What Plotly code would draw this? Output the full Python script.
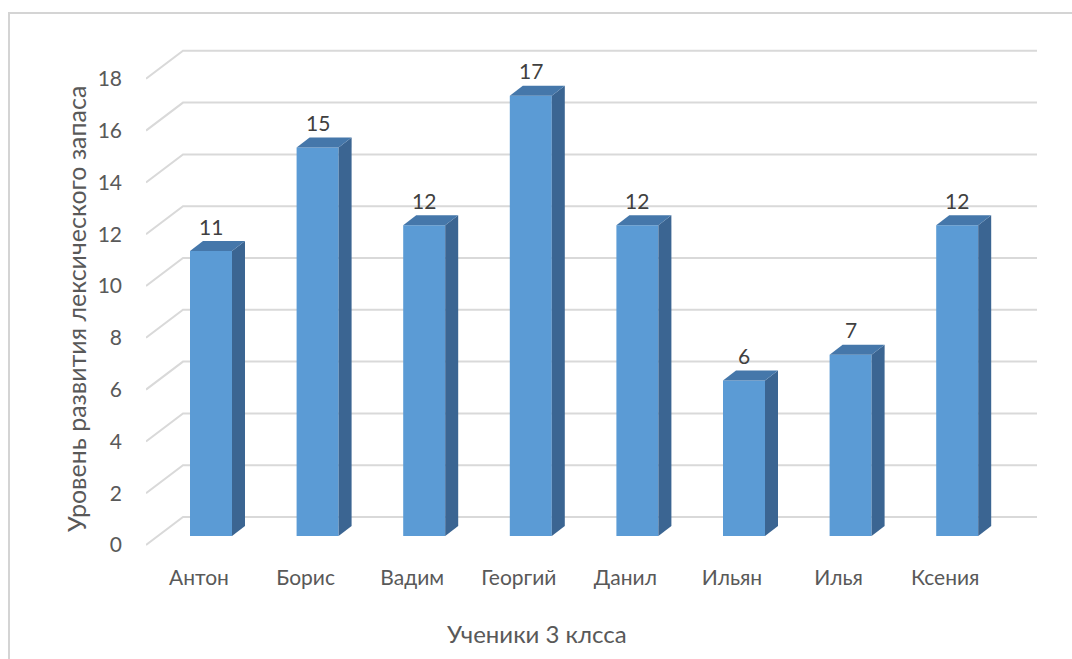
import plotly.graph_objects as go

# Data
students = ["Антон", "Борис", "Вадим", "Георгий", "Данил", "Ильян", "Илья", "Ксения"]
scores = [11, 15, 12, 17, 12, 6, 7, 12]
y_ticks = list(range(0, 19, 2))

# Page geometry (pixels)
W, H = 1072, 659
L, R, T, B = 146, 1040, 40, 560          # plot area
X0_PX, STEP_PX = 211, 106.6              # centre of first bar front, spacing
Y0_PX, UNIT_PX = 536, 25.9               # bar base, pixels per unit

# Oblique depth of the floor: front gap, bar depth, back gap
GAP_FRONT = (12 / STEP_PX, 9 / UNIT_PX)
BAR_DEPTH = (13 / STEP_PX, 10 / UNIT_PX)
GAP_BACK = (25 / STEP_PX, 19 / UNIT_PX)   # bar front -> back wall
BAR_W = 42 / STEP_PX

x_range = [(L - X0_PX) / STEP_PX, (R - X0_PX) / STEP_PX]
y_range = [(Y0_PX - B) / UNIT_PX, (Y0_PX - T) / UNIT_PX]
wall_end = (1037 - X0_PX) / STEP_PX

FRONT = "#5B9BD5"
SIDE = "#3B6592"
TOP = "#4577AA"
GRID = "#D9D9D9"
FONT = "Lato"

xs = list(range(len(students)))

fig = go.Figure()

fig.add_trace(go.Bar(
    x=xs, y=scores, width=BAR_W,
    marker=dict(color=FRONT, line=dict(width=0)),
    hoverinfo="skip", showlegend=False,
))

# invisible trace so that the label axes are drawn
fig.add_trace(go.Scatter(x=[xs[0]], y=[0], xaxis="x2", yaxis="y2",
                         mode="markers", marker=dict(opacity=0),
                         hoverinfo="skip", showlegend=False))

shapes = []

# Gridlines: diagonal on the left side wall, then across the back wall
for v in y_ticks:
    xf, yf = x_range[0], v - GAP_FRONT[1]
    xb, yb = x_range[0] + 37 / STEP_PX, v + GAP_BACK[1]
    shapes.append(dict(
        type="path", xref="x", yref="y", layer="below",
        path=f"M{xf},{yf} L{xb},{yb} L{wall_end},{yb}",
        line=dict(color=GRID, width=2),
    ))

# 3D faces of each column
dx, dy = BAR_DEPTH
for x, v in zip(xs, scores):
    xl, xr = x - BAR_W / 2, x + BAR_W / 2
    shapes.append(dict(
        type="path", xref="x", yref="y", layer="above",
        path=f"M{xr},0 L{xr + dx},{dy} L{xr + dx},{v + dy} L{xr},{v} Z",
        fillcolor=SIDE, line=dict(width=0),
    ))
    shapes.append(dict(
        type="path", xref="x", yref="y", layer="above",
        path=f"M{xl},{v} L{xl + dx},{v + dy} L{xr + dx},{v + dy} L{xr},{v} Z",
        fillcolor=TOP, line=dict(width=0),
    ))

# Chart area border
shapes.append(dict(
    type="rect", xref="paper", yref="paper", layer="below",
    x0=(9 - L) / (R - L), x1=(W + 20 - L) / (R - L),
    y0=(B - (H + 20)) / (B - T), y1=(B - 13) / (B - T),
    line=dict(color="#D4D4D4", width=2), fillcolor="rgba(0,0,0,0)",
))

annotations = []
# Value labels above columns
for x, v in zip(xs, scores):
    annotations.append(dict(
        x=x, y=v, xref="x", yref="y", text=str(v), showarrow=False,
        yshift=25, xanchor="center", yanchor="middle",
        font=dict(family=FONT, size=21, color="#404040"),
    ))

# Axis titles
annotations.append(dict(
    x=(537 - L) / (R - L), y=(B - 633) / (B - T), xref="paper", yref="paper",
    text="Ученики 3 клсса", showarrow=False, xanchor="center", yanchor="middle",
    font=dict(family=FONT, size=24, color="#595959"),
))
annotations.append(dict(
    x=(76 - L) / (R - L), y=(B - 309) / (B - T), xref="paper", yref="paper",
    text="Уровень развития лексического запаса", showarrow=False, textangle=-90,
    xanchor="center", yanchor="middle",
    font=dict(family=FONT, size=25, color="#595959"),
))

fig.update_layout(
    width=W, height=H,
    margin=dict(l=L, r=W - R, t=T, b=H - B, pad=0),
    paper_bgcolor="white", plot_bgcolor="white",
    showlegend=False,
    shapes=shapes, annotations=annotations,
    xaxis=dict(range=x_range, showgrid=False, zeroline=False,
               showticklabels=False, showline=False, fixedrange=True),
    yaxis=dict(range=y_range, showgrid=False, zeroline=False,
               showticklabels=False, showline=False, fixedrange=True),
    # category labels sit on the front edge of the floor
    xaxis2=dict(overlaying="x", anchor="y", side="bottom",
                range=[x_range[0] + GAP_FRONT[0], x_range[1] + GAP_FRONT[0]],
                tickmode="array", tickvals=xs, ticktext=students,
                showgrid=False, zeroline=False, showline=False, ticks="",
                ticklabelstandoff=3,
                tickfont=dict(family=FONT, size=21, color="#595959")),
    # value ticks sit on the front edge of the side wall
    yaxis2=dict(overlaying="y", anchor="x", side="left",
                range=[y_range[0] + GAP_FRONT[1], y_range[1] + GAP_FRONT[1]],
                tickmode="array", tickvals=y_ticks,
                showgrid=False, zeroline=False, showline=False, ticks="",
                ticklabelstandoff=23,
                tickfont=dict(family=FONT, size=21, color="#595959")),
)

fig.write_html("out.html")
